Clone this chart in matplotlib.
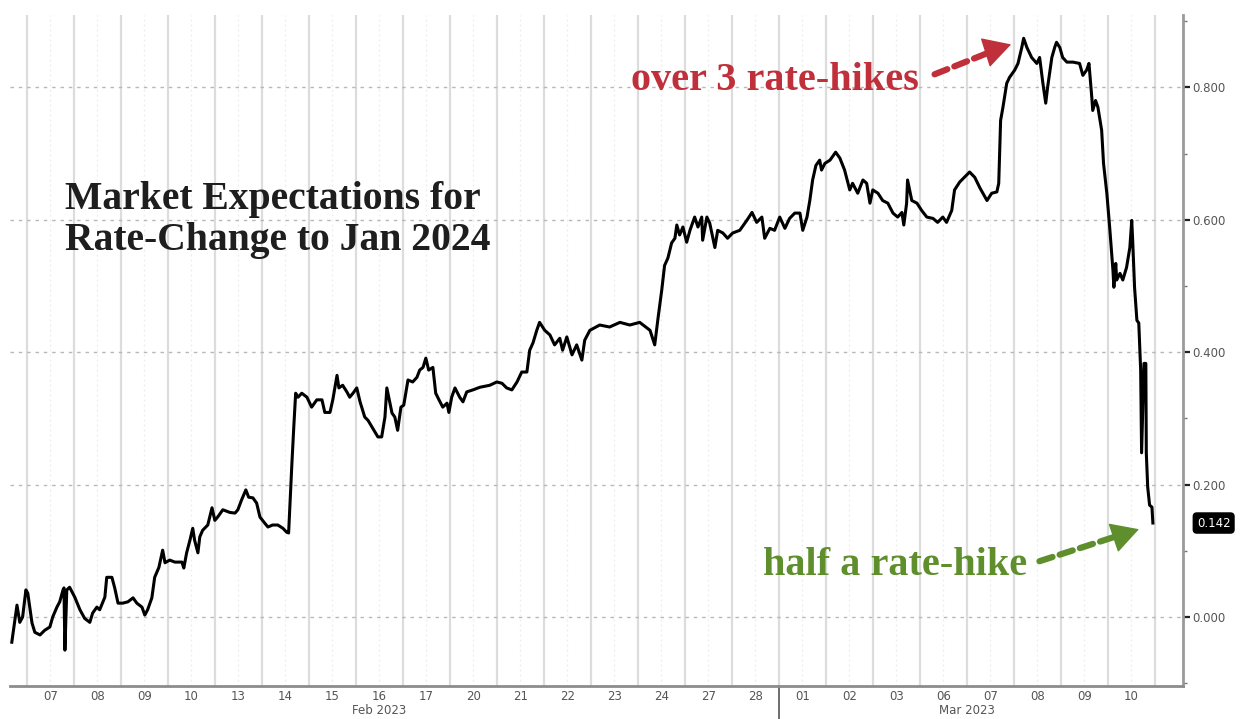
import matplotlib
matplotlib.use("Agg")
import matplotlib.pyplot as plt
from matplotlib.ticker import FixedLocator, FormatStrFormatter
from matplotlib.transforms import blended_transform_factory

# Trading sessions shown on the x axis (one slot per session day)
day_labels = ['07', '08', '09', '10', '13', '14', '15', '16', '17', '20', '21', '22',
              '23', '24', '27', '28', '01', '02', '03', '06', '07', '08', '09', '10']
month_labels = ['Feb 2023', 'Mar 2023']
month_centers = [7.5, 20.0]
month_split = 16

# Time in trading days from the 07 Feb open, and the implied rate change
session_time = [
    -0.32, -0.21, -0.15, -0.09, -0.02, 0.02, 0.11, 0.17, 0.28, 0.38, 0.49, 0.55, 0.64, 0.70,
    0.77, 0.79, 0.81, 0.85, 0.91, 1.02, 1.13, 1.23, 1.34, 1.40, 1.49, 1.55, 1.66, 1.70, 1.81,
    1.87, 1.94, 2.04, 2.15, 2.26, 2.34, 2.45, 2.51, 2.57, 2.66, 2.72, 2.81, 2.89, 2.94, 3.04,
    3.15, 3.30, 3.34, 3.40, 3.47, 3.53, 3.57, 3.64, 3.68, 3.74, 3.85, 3.94, 4.00, 4.06, 4.17,
    4.32, 4.43, 4.49, 4.57, 4.66, 4.72, 4.81, 4.89, 4.96, 5.06, 5.13, 5.23, 5.34, 5.45, 5.53,
    5.57, 5.64, 5.68, 5.72, 5.77, 5.85, 5.96, 6.06, 6.17, 6.28, 6.34, 6.45, 6.51, 6.60, 6.64,
    6.72, 6.81, 6.87, 6.94, 7.02, 7.09, 7.19, 7.26, 7.36, 7.47, 7.55, 7.62, 7.66, 7.70, 7.77,
    7.83, 7.89, 7.96, 8.02, 8.11, 8.21, 8.30, 8.36, 8.43, 8.49, 8.55, 8.64, 8.70, 8.77, 8.85,
    8.94, 8.98, 9.04, 9.11, 9.21, 9.28, 9.36, 9.49, 9.64, 9.85, 10.00, 10.11, 10.21, 10.32,
    10.43, 10.53, 10.64, 10.70, 10.77, 10.85, 10.91, 11.02, 11.13, 11.23, 11.34, 11.40, 11.49,
    11.60, 11.70, 11.81, 11.87, 11.98, 12.19, 12.40, 12.62, 12.83, 13.04, 13.26, 13.36, 13.43,
    13.51, 13.57, 13.64, 13.72, 13.79, 13.83, 13.89, 13.96, 14.04, 14.11, 14.21, 14.28, 14.36,
    14.38, 14.47, 14.53, 14.64, 14.70, 14.81, 14.91, 15.02, 15.17, 15.32, 15.43, 15.53, 15.64,
    15.70, 15.81, 15.91, 16.02, 16.13, 16.23, 16.34, 16.45, 16.51, 16.60, 16.66, 16.72, 16.79,
    16.87, 16.91, 16.98, 17.09, 17.21, 17.30, 17.40, 17.51, 17.57, 17.68, 17.79, 17.87, 17.94,
    18.00, 18.11, 18.21, 18.32, 18.43, 18.53, 18.62, 18.66, 18.72, 18.74, 18.83, 18.94, 19.04,
    19.15, 19.28, 19.38, 19.49, 19.57, 19.68, 19.74, 19.85, 20.06, 20.17, 20.28, 20.43, 20.53,
    20.64, 20.68, 20.72, 20.77, 20.85, 20.91, 21.02, 21.09, 21.17, 21.21, 21.28, 21.38, 21.49,
    21.55, 21.62, 21.68, 21.72, 21.81, 21.87, 21.91, 21.98, 22.04, 22.13, 22.26, 22.40, 22.47,
    22.55, 22.60, 22.66, 22.68, 22.74, 22.79, 22.87, 22.91, 22.98, 23.04, 23.11, 23.13, 23.17,
    23.19, 23.26, 23.32, 23.40, 23.47, 23.51, 23.53, 23.57, 23.62, 23.66, 23.70, 23.72, 23.77,
    23.81, 23.82, 23.85, 23.89, 23.94, 23.96,
]
expected_change = [
    -0.038, 0.018, -0.008, 0.000, 0.041, 0.036, -0.009, -0.023, -0.027, -0.020, -0.015, 0.000,
    0.015, 0.023, 0.041, 0.044, -0.050, 0.041, 0.045, 0.030, 0.011, -0.002, -0.008, 0.006,
    0.015, 0.011, 0.030, 0.060, 0.060, 0.044, 0.021, 0.021, 0.023, 0.029, 0.021, 0.015, 0.003,
    0.011, 0.029, 0.060, 0.075, 0.101, 0.082, 0.086, 0.083, 0.083, 0.074, 0.097, 0.116, 0.134,
    0.116, 0.097, 0.121, 0.131, 0.139, 0.165, 0.146, 0.151, 0.162, 0.158, 0.157, 0.162, 0.177,
    0.192, 0.181, 0.180, 0.172, 0.151, 0.142, 0.136, 0.139, 0.139, 0.134, 0.128, 0.127, 0.232,
    0.287, 0.338, 0.332, 0.338, 0.332, 0.317, 0.328, 0.328, 0.309, 0.309, 0.328, 0.365, 0.346,
    0.350, 0.340, 0.332, 0.338, 0.346, 0.325, 0.302, 0.297, 0.285, 0.272, 0.272, 0.302, 0.346,
    0.332, 0.308, 0.302, 0.282, 0.317, 0.320, 0.358, 0.355, 0.362, 0.373, 0.377, 0.391, 0.373,
    0.377, 0.338, 0.328, 0.317, 0.323, 0.309, 0.332, 0.346, 0.332, 0.325, 0.340, 0.343, 0.347,
    0.350, 0.355, 0.353, 0.346, 0.343, 0.355, 0.370, 0.370, 0.403, 0.414, 0.433, 0.445, 0.433,
    0.426, 0.411, 0.421, 0.403, 0.423, 0.396, 0.411, 0.388, 0.418, 0.433, 0.441, 0.438, 0.445,
    0.441, 0.445, 0.433, 0.411, 0.451, 0.494, 0.531, 0.542, 0.565, 0.572, 0.592, 0.577, 0.589,
    0.566, 0.584, 0.604, 0.589, 0.604, 0.569, 0.604, 0.595, 0.558, 0.584, 0.580, 0.572, 0.580,
    0.584, 0.599, 0.611, 0.596, 0.604, 0.572, 0.587, 0.584, 0.604, 0.587, 0.602, 0.610, 0.610,
    0.584, 0.604, 0.629, 0.660, 0.682, 0.690, 0.675, 0.685, 0.690, 0.702, 0.693, 0.675, 0.645,
    0.655, 0.640, 0.660, 0.655, 0.625, 0.645, 0.640, 0.629, 0.625, 0.610, 0.604, 0.611, 0.592,
    0.625, 0.660, 0.629, 0.625, 0.614, 0.604, 0.602, 0.596, 0.604, 0.596, 0.614, 0.645, 0.657,
    0.672, 0.664, 0.648, 0.629, 0.640, 0.642, 0.655, 0.750, 0.770, 0.806, 0.815, 0.826, 0.836,
    0.860, 0.874, 0.860, 0.845, 0.836, 0.845, 0.806, 0.776, 0.800, 0.845, 0.860, 0.868, 0.860,
    0.845, 0.838, 0.838, 0.836, 0.818, 0.826, 0.836, 0.785, 0.765, 0.780, 0.770, 0.735, 0.685,
    0.640, 0.589, 0.524, 0.498, 0.534, 0.509, 0.519, 0.509, 0.528, 0.558, 0.599, 0.569, 0.498,
    0.448, 0.444, 0.373, 0.248, 0.383, 0.383, 0.248, 0.196, 0.169, 0.166, 0.142,
]
last_value = 0.142

title_text = "Market Expectations for\nRate-Change to Jan 2024"
hikes_high_text = "over 3 rate-hikes"
hikes_low_text = "half a rate-hike"

fig = plt.figure(figsize=(12.4, 7.19), dpi=100)
ax = fig.add_axes([0.008, 0.046, 0.946, 0.933])

ax.set_xlim(-0.36, 24.6)
ax.set_ylim(-0.104, 0.909)

# Day-boundary grid (solid) and value grid (dotted)
for d in range(len(day_labels) + 1):
    ax.axvline(d, color='#dcdcdc', lw=1.6, zorder=0)
for d in range(len(day_labels)):
    ax.axvline(d + 0.5, color='#ececec', lw=0.9, ls=(0, (1.5, 2.5)), zorder=0)
for v in [0.0, 0.2, 0.4, 0.6, 0.8]:
    ax.axhline(v, color='#b8b8b8', lw=1.0, ls=(0, (2.5, 3.5)), zorder=0)

ax.plot(session_time, expected_change, color='black', lw=2.2, zorder=3,
        solid_joinstyle='round')

# Axes styling
for side in ['top', 'left']:
    ax.spines[side].set_visible(False)
ax.spines['right'].set_color('#9a9a9a')
ax.spines['right'].set_linewidth(2.0)
ax.spines['bottom'].set_color('#8c8c8c')
ax.spines['bottom'].set_linewidth(2.0)

ax.yaxis.tick_right()
ax.yaxis.set_major_locator(FixedLocator([0.0, 0.2, 0.4, 0.6, 0.8]))
ax.yaxis.set_minor_locator(FixedLocator([-0.1, 0.1, 0.3, 0.5, 0.7, 0.9]))
ax.yaxis.set_major_formatter(FormatStrFormatter('%.3f'))
ax.tick_params(axis='y', which='major', direction='out', length=5, width=1.6,
               color='#222222', labelsize=8.5, labelcolor='#555555', pad=2)
ax.tick_params(axis='y', which='minor', direction='out', length=3, width=1,
               color='#777777')

ax.set_xticks([d + 0.5 for d in range(len(day_labels))])
ax.set_xticklabels(day_labels)
ax.tick_params(axis='x', which='both', length=0, labelsize=8.5, labelcolor='#555555', pad=3)

trans = blended_transform_factory(ax.transData, ax.transAxes)
for label, center in zip(month_labels, month_centers):
    ax.text(center, -0.037, label, transform=trans, ha='center', va='center',
            fontsize=8.5, color='#555555')
ax.plot([month_split, month_split], [0, -0.06], transform=trans, color='#555555',
        lw=1.2, clip_on=False)

# Title block
ax.text(0.81, 0.600, title_text, fontsize=28.5, fontweight='bold', family='Liberation Serif',
        color='#1e1e1e', ha='left', va='center', linespacing=1.15)

# Annotations
red = '#c0303a'
green = '#5e8f2c'
ax.text(18.98, 0.81, hikes_high_text, fontsize=29, fontweight='bold',
        family='Liberation Serif', color=red, ha='right', va='center')
ax.annotate('', xy=(20.7, 0.859), xytext=(19.26, 0.818),
            arrowprops=dict(arrowstyle='-', color=red, lw=4.5, ls=(0, (2.2, 1.2))))
ax.annotate('', xy=(21.0, 0.866), xytext=(20.6, 0.857),
            arrowprops=dict(arrowstyle='-|>,head_length=0.9,head_width=0.5', color=red,
                            lw=1, mutation_scale=20))

ax.text(21.28, 0.078, hikes_low_text, fontsize=29, fontweight='bold',
        family='Liberation Serif', color=green, ha='right', va='center')
ax.annotate('', xy=(23.4, 0.127), xytext=(21.49, 0.083),
            arrowprops=dict(arrowstyle='-', color=green, lw=4.5, ls=(0, (2.2, 1.2))))
ax.annotate('', xy=(23.72, 0.134), xytext=(23.3, 0.124),
            arrowprops=dict(arrowstyle='-|>,head_length=0.9,head_width=0.5', color=green,
                            lw=1, mutation_scale=20))

# Last value tag on the value axis
ax.annotate(f'{last_value:.3f}', xy=(1.0, last_value), xycoords=('axes fraction', 'data'),
            xytext=(10, 0), textcoords='offset points', ha='left', va='center',
            fontsize=8.5, color='white',
            bbox=dict(boxstyle='round,pad=0.3,rounding_size=0.3', fc='black', ec='black'))

fig.savefig('out.png', dpi=100, facecolor='white')
